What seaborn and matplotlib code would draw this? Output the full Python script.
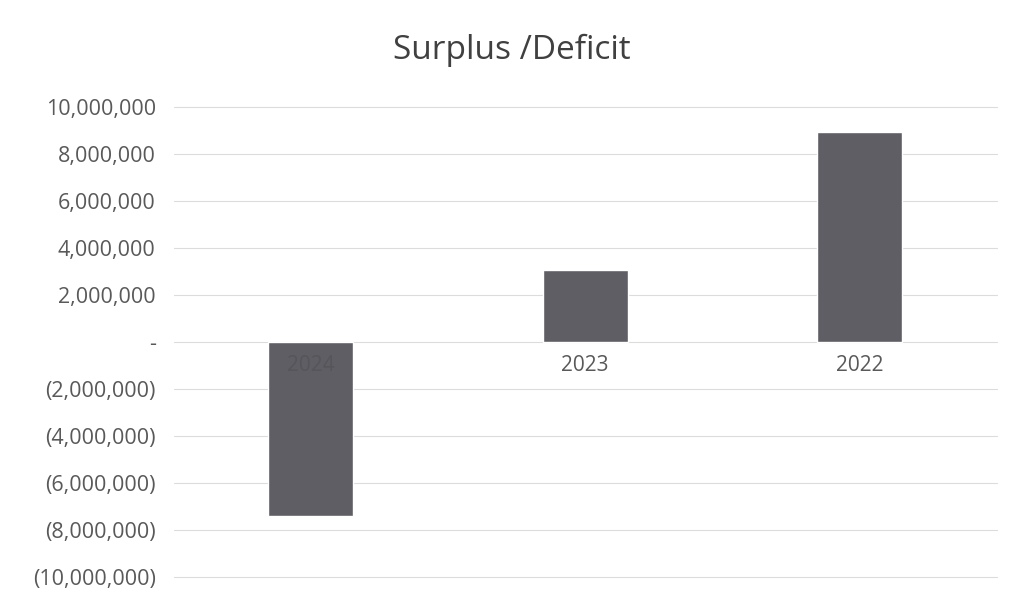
import matplotlib
matplotlib.use('Agg')
import matplotlib.pyplot as plt
import matplotlib.ticker as mticker
import matplotlib.transforms as mtransforms
import seaborn as sns
import pandas as pd

years = ['2024', '2023', '2022']
surplus = [-7400000, 3050000, 8950000]

sns.set_theme(style="white")
plt.rcParams['font.family'] = ['Open Sans', 'DejaVu Sans']

df = pd.DataFrame({'Year': years, 'Surplus': surplus})

fig = plt.figure(figsize=(10.16, 6.04), dpi=100)
ax = fig.add_axes([0.171, 0.045, 0.81, 0.778])

sns.barplot(data=df, x='Year', y='Surplus', color='#5e5e64', width=0.31,
            saturation=1, ax=ax, zorder=2)

ax.set_ylim(-10000000, 10000000)
ax.set_yticks(range(-10000000, 10000001, 2000000))


def acct(v, pos):
    if v == 0:
        return '-'
    if v < 0:
        return f'({abs(v):,.0f})'
    return f'{v:,.0f}'


ax.yaxis.set_major_formatter(mticker.FuncFormatter(acct))
ax.grid(axis='y', color='#dcdcdc', linewidth=0.8, zorder=0)
ax.set_axisbelow(True)
for line in ax.get_ygridlines():
    line.set_clip_on(False)
for s in ax.spines.values():
    s.set_visible(False)

ax.tick_params(axis='y', length=0, pad=13, labelsize=15.5, labelcolor='#595959')
ax.set_xticks(range(len(years)))
ax.set_xticklabels([])
ax.tick_params(axis='x', length=0)
ax.set_xlabel('')
ax.set_ylabel('')
ax.set_xlim(-0.5, 2.5)

# category labels sit just under the zero line, drawn over the bars
offset = mtransforms.offset_copy(ax.transData, fig=fig, x=0, y=-24, units='dots')
for i, yr in enumerate(years):
    ax.text(i, 0, yr, transform=offset, ha='center', va='center',
            fontsize=15, color='#595959' if surplus[i] >= 0 else '#55555a',
            zorder=3)

fig.text(0.504, 0.917, 'Surplus /Deficit', ha='center', va='center',
         fontsize=24, color='#404040')

fig.savefig('out.png', dpi=100)
